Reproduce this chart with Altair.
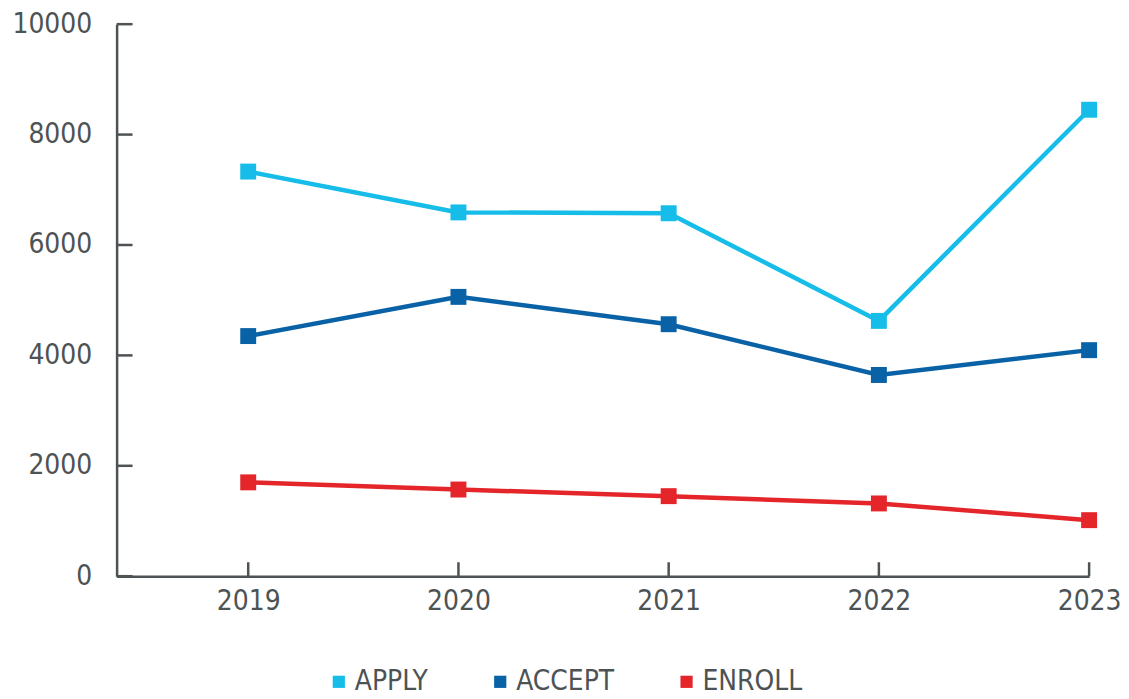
import altair as alt
import pandas as pd

years = [2019, 2020, 2021, 2022, 2023]
apply_vals = [7330, 6590, 6575, 4625, 8450]
accept_vals = [4350, 5060, 4565, 3645, 4095]
enroll_vals = [1700, 1570, 1450, 1318, 1015]
series = ["APPLY", "ACCEPT", "ENROLL"]
colors = ["#17bde9", "#0a62a6", "#e4262a"]
y_ticks = [0, 2000, 4000, 6000, 8000, 10000]

rows = []
for name, vals in zip(series, [apply_vals, accept_vals, enroll_vals]):
    for yr, v in zip(years, vals):
        rows.append({"year": yr, "value": v, "series": name})
df = pd.DataFrame(rows)

W, H = 976, 554
FONT = "'DejaVu Sans Condensed', 'Roboto', sans-serif"
GRAY = "#4d5354"

x = alt.X("year:Q", scale=alt.Scale(domain=[2018.374, 2023], nice=False, zero=False),
          axis=alt.Axis(values=years, format="d", title=None, ticks=False, tickSize=0,
                        grid=False, labelPadding=11, labelFontSize=28, labelFont=FONT,
                        labelColor=GRAY, domainColor=GRAY, domainWidth=2.5,
                        labelFlush=False))
y = alt.Y("value:Q", scale=alt.Scale(domain=[0, 10000], nice=False),
          axis=alt.Axis(values=y_ticks, format="d", title=None, ticks=False, tickSize=0,
                        grid=False, labelPadding=25, labelFontSize=28, labelFont=FONT,
                        labelColor=GRAY, domainColor=GRAY, domainWidth=2.5))
color = alt.Color("series:N", scale=alt.Scale(domain=series, range=colors),
                  sort=series,
                  legend=alt.Legend(title=None, orient="none", direction="horizontal",
                                    legendX=209, legendY=646, symbolType="square",
                                    symbolSize=150, symbolStrokeWidth=0, labelFontSize=28,
                                    labelFont=FONT, labelColor=GRAY, columnPadding=58,
                                    labelOffset=2, symbolOpacity=1))

lines = alt.Chart(df).mark_line(strokeWidth=4.5).encode(x=x, y=y, color=color,
                                                        detail="series:N")
pts = alt.Chart(df).mark_square(size=256, opacity=1).encode(x=x, y=y, color=color)

ydf = pd.DataFrame({"v": y_ticks})
ytick = alt.Chart(ydf).mark_rule(color=GRAY, strokeWidth=2.5).encode(
    y=alt.Y("v:Q"), x=alt.value(0), x2=alt.value(16))
xdf = pd.DataFrame({"yr": years})
xtick = alt.Chart(xdf).mark_rule(color=GRAY, strokeWidth=2.5).encode(
    x=alt.X("yr:Q"), y=alt.value(H), y2=alt.value(H - 14))

chart = alt.layer(lines, pts, ytick, xtick).properties(
    width=W, height=H,
    autosize=alt.AutoSizeParams(type="none"),
    padding={"left": 109, "top": 15, "right": 32, "bottom": 121},
).configure_view(stroke=None)

chart.save("out.html", embed_options={"renderer": "svg", "actions": False})
